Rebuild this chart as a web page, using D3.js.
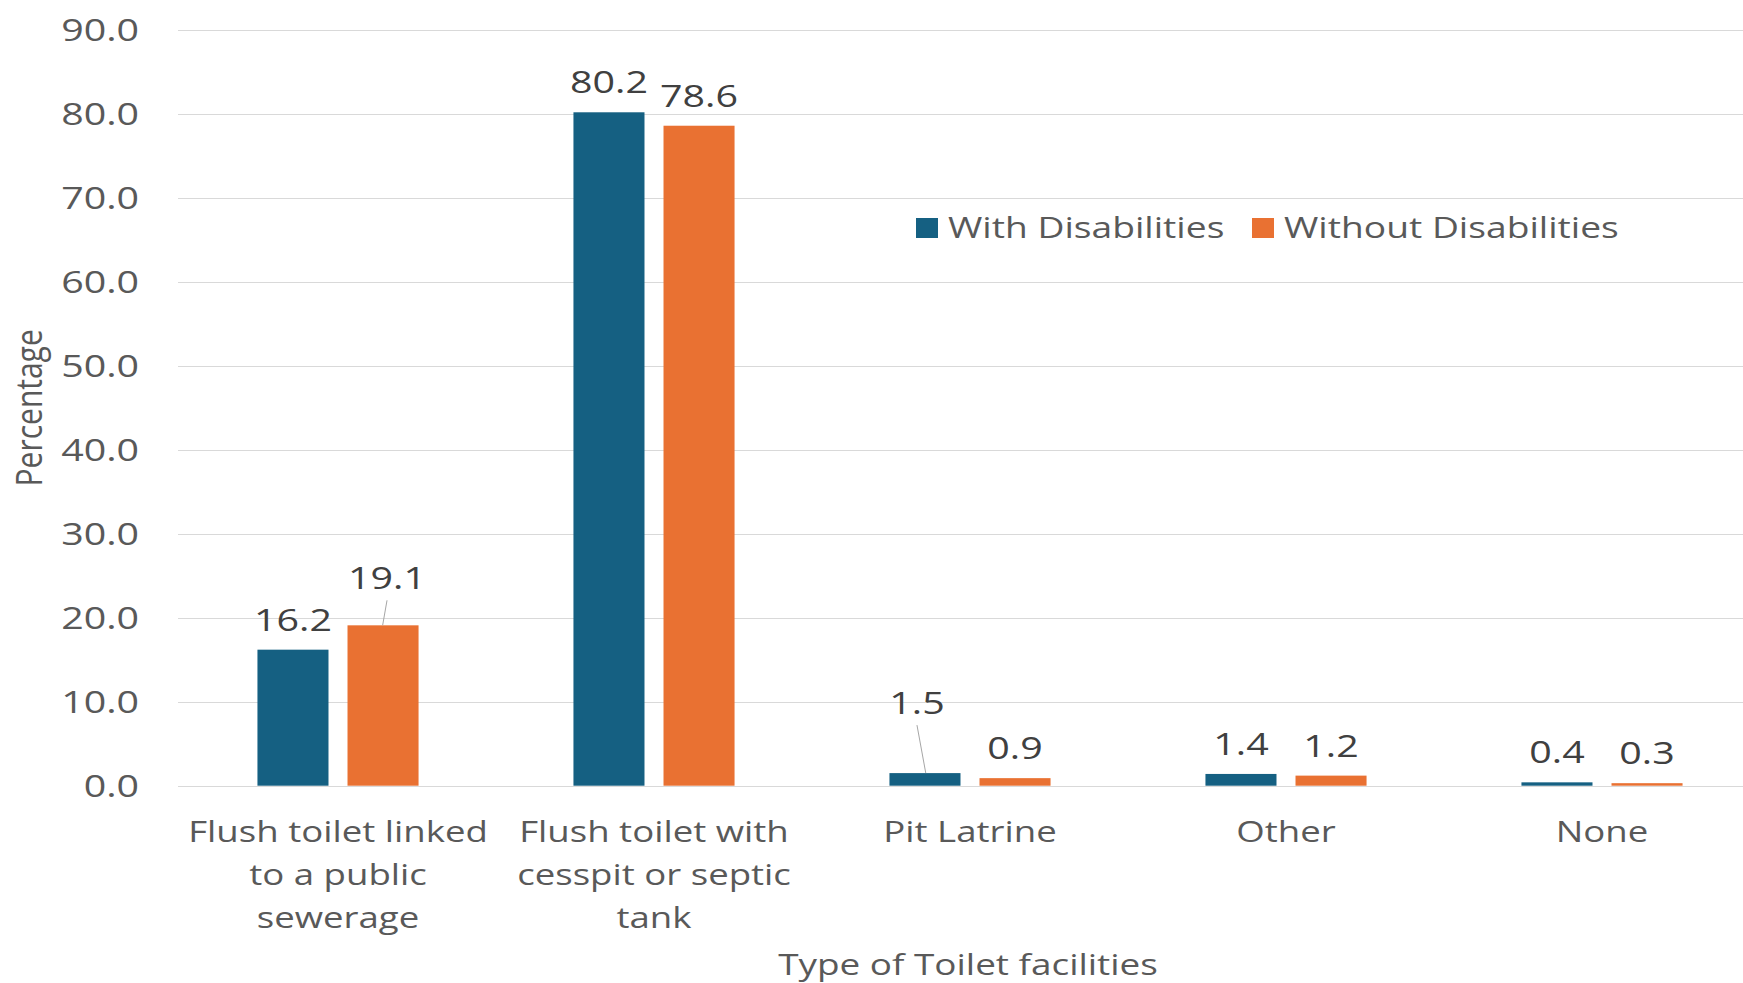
<!DOCTYPE html>
<html>
<head>
<meta charset="utf-8">
<script src="https://cdn.jsdelivr.net/npm/d3@7"></script>
<style>
  html, body { margin: 0; padding: 0; background: #ffffff; }
  svg { display: block; }
</style>
</head>
<body>
<script>
// ---------- data ----------
const categories = [
  "Flush toilet linked to a public sewerage",
  "Flush toilet with cesspit or septic tank",
  "Pit Latrine",
  "Other",
  "None"
];
const categoryLines = [
  ["Flush toilet linked", "to a public", "sewerage"],
  ["Flush toilet with", "cesspit or septic", "tank"],
  ["Pit Latrine"],
  ["Other"],
  ["None"]
];
const seriesNames = ["With Disabilities", "Without Disabilities"];
const withDisabilities = [16.2, 80.2, 1.5, 1.4, 0.4];
const withoutDisabilities = [19.1, 78.6, 0.9, 1.2, 0.3];
const yTicks = [0, 10, 20, 30, 40, 50, 60, 70, 80, 90];
const xTitle = "Type of Toilet facilities";
const yTitle = "Percentage";

// ---------- layout / style ----------
const W = 1743, H = 983;
const colors = { "With Disabilities": "#156082", "Without Disabilities": "#E97132" };
const FONT = "'Open Sans', 'Noto Sans', sans-serif";
const SX = 1.21;      // horizontal stretch of the reference's text
const SX_NUM = 1.27;  // numbers look a bit wider

const svg = d3.select("body").append("svg").attr("width", W).attr("height", H);

const y = d3.scaleLinear().domain([0, 90]).range([785.7, 30]);
const x0 = d3.scaleBand().domain(categories).range([180, 1760]).paddingInner(0).paddingOuter(0);
const x1 = d3.scaleBand().domain(seriesNames).range([0, x0.bandwidth()])
  .paddingInner(19 / 90).paddingOuter(0.86);

function txt(g, x, yy, s, opt) {
  return g.append("text")
    .attr("transform", `translate(${x},${yy}) scale(${opt.sx || SX},1)`)
    .attr("text-anchor", opt.anchor || "middle")
    .attr("font-family", FONT)
    .attr("font-size", opt.size || 30)
    .attr("fill", opt.fill || "#595959")
    .text(s);
}

// gridlines
const grid = svg.append("g");
grid.selectAll("line").data(yTicks).join("line")
  .attr("x1", 178).attr("x2", W)
  .attr("y1", d => Math.round(y(d)) + 0.5).attr("y2", d => Math.round(y(d)) + 0.5)
  .attr("stroke", "#d9d9d9").attr("stroke-width", 1.2);

// y tick labels
const yl = svg.append("g");
yTicks.forEach(t => txt(yl, 139, y(t) + 11, d3.format(".1f")(t), { anchor: "end", size: 31, sx: SX_NUM }));

// bars
const rows = categories.map((c, i) => ({
  cat: c, i,
  vals: [
    { s: seriesNames[0], v: withDisabilities[i] },
    { s: seriesNames[1], v: withoutDisabilities[i] }
  ]
}));
const gBars = svg.append("g");
const groups = gBars.selectAll("g").data(rows).join("g")
  .attr("transform", d => `translate(${x0(d.cat)},0)`);
groups.selectAll("rect").data(d => d.vals).join("rect")
  .attr("x", d => x1(d.s))
  .attr("width", x1.bandwidth())
  .attr("y", d => y(d.v))
  .attr("height", d => y(0) - y(d.v))
  .attr("fill", d => colors[d.s]);

// data labels (a few were dragged in the original, with leader lines)
const labelNudge = {
  "Without Disabilities|0": [4, -17],
  "With Disabilities|2": [-8, -40]
};
const gLab = svg.append("g");
rows.forEach(r => {
  r.vals.forEach(d => {
    const cx = x0(r.cat) + x1(d.s) + x1.bandwidth() / 2;
    const top = y(d.v);
    const nud = labelNudge[d.s + "|" + r.i] || [0, 0];
    const lx = cx + nud[0], ly = top - 19 + nud[1];
    if (nud[1] !== 0) {
      gLab.append("line")
        .attr("x1", lx).attr("y1", ly + 11)
        .attr("x2", cx - nud[0] * 0.1).attr("y2", top)
        .attr("stroke", "#a6a6a6").attr("stroke-width", 1);
    }
    txt(gLab, lx, ly, d3.format(".1f")(d.v), { size: 31, sx: SX_NUM, fill: "#404040" });
  });
});

// category labels
const gCat = svg.append("g");
rows.forEach((r, i) => {
  const cx = x0(r.cat) + x0.bandwidth() / 2;
  categoryLines[i].forEach((line, k) => {
    txt(gCat, cx, 842 + k * 43, line, { size: 30, sx: 1.22 });
  });
});

// axis titles
txt(svg, (178 + 1758) / 2, 975, xTitle, { size: 30, sx: 1.23 });
svg.append("text")
  .attr("transform", `translate(42,${(y(0) + y(90)) / 2}) scale(${SX},1) rotate(-90)`)
  .attr("text-anchor", "middle")
  .attr("font-family", FONT)
  .attr("font-size", 30)
  .attr("fill", "#595959")
  .text(yTitle);

// legend
const gLeg = svg.append("g");
const legX = [916, 1252];
seriesNames.forEach((s, i) => {
  gLeg.append("rect").attr("x", legX[i]).attr("y", 218).attr("width", 22).attr("height", 20)
    .attr("fill", colors[s]);
  txt(gLeg, legX[i] + 32, 238, s, { anchor: "start", size: 30, sx: 1.24 });
});
</script>
</body>
</html>
